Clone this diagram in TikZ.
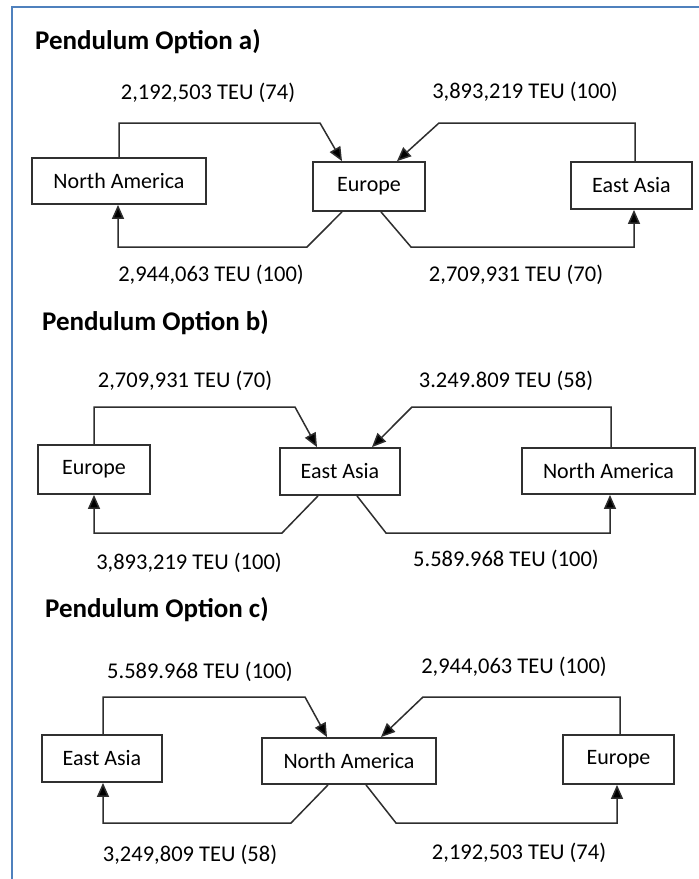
\documentclass[tikz,border=0pt]{standalone}
\usepackage{fontspec}
\setmainfont{Carlito}
\usetikzlibrary{arrows.meta}
\definecolor{frameblue}{HTML}{4F81BD}
\definecolor{boxline}{HTML}{303030}
\definecolor{connline}{HTML}{2E2E2E}
\tikzset{
  region/.style={draw=boxline, line width=1.8pt, fill=white, inner sep=0pt, font=\fontsize{22}{24}\selectfont},
  flowlabel/.style={inner sep=0pt, font=\fontsize{22.5}{24}\selectfont},
  heading/.style={anchor=west, inner sep=0pt, font=\fontsize{27}{30}\selectfont\bfseries},
  conn/.style={draw=connline, line width=1.5pt},
  flowarrow/.style={conn, -{Triangle[length=14pt, width=12pt, fill=black]}},
}
\begin{document}
\begin{tikzpicture}[x=1pt, y=-1pt]
\useasboundingbox (0,0) rectangle (699,879);
\fill[white] (0,0) rectangle (699,879);
\draw[frameblue, line width=2pt] (12,879) -- (12,7) -- (699,7);

% ---------- Option a ----------
\node[heading] (ta) at (35,42) {Pendulum Option a)};
\node[region, minimum width=174pt, minimum height=46pt] (NAa) at (119,181) {North America};
\node[region, minimum width=112pt, minimum height=49pt] (EUa) at (369,186.5) {Europe};
\node[region, minimum width=121pt, minimum height=47pt] (EAa) at (631.5,185.5) {East Asia};
\draw[flowarrow] (NAa.north) |- (320,123) -- ([xshift=-27pt]EUa.north);
\draw[flowarrow] ([xshift=3.5pt]EAa.north) |- (439,123) -- ([xshift=28pt]EUa.north);
\draw[flowarrow] ([xshift=-27pt]EUa.south) -- (307,247) -| ([xshift=-1pt]NAa.south);
\draw[flowarrow] ([xshift=12pt]EUa.south) -- (411,247) -| ([xshift=2.5pt]EAa.south);
\node[flowlabel] (la1) at (208,93) {2,192,503 TEU (74)};
\node[flowlabel] (la2) at (525,92) {3,893,219 TEU (100)};
\node[flowlabel] (la3) at (211,275) {2,944,063 TEU (100)};
\node[flowlabel] (la4) at (516,275) {2,709,931 TEU (70)};

% ---------- Option b ----------
\node[heading] (tb) at (42,323) {Pendulum Option b)};
\node[region, minimum width=112pt, minimum height=49pt] (EUb) at (94,469.5) {Europe};
\node[region, minimum width=120pt, minimum height=47pt] (EAb) at (340,471.5) {East Asia};
\node[region, minimum width=173pt, minimum height=46pt] (NAb) at (608.5,471) {North America};
\draw[flowarrow] (EUb.north) |- (295,407) -- ([xshift=-23pt]EAb.north);
\draw[flowarrow] ([xshift=2.5pt]NAb.north) |- (412,407) -- ([xshift=32pt]EAb.north);
\draw[flowarrow] ([xshift=-22pt]EAb.south) -- (282,533) -| (EUb.south);
\draw[flowarrow] ([xshift=17pt]EAb.south) -- (386,533) -| ([xshift=1.5pt]NAb.south);
\node[flowlabel] (lb1) at (185,381) {2,709,931 TEU (70)};
\node[flowlabel] (lb2) at (506,381) {3.249.809 TEU (58)};
\node[flowlabel] (lb3) at (189,563) {3,893,219 TEU (100)};
\node[flowlabel] (lb4) at (506,560) {5.589.968 TEU (100)};

% ---------- Option c ----------
\node[heading] (tc) at (45,610) {Pendulum Option c)};
\node[region, minimum width=120pt, minimum height=47pt] (EAc) at (102,758.5) {East Asia};
\node[region, minimum width=174pt, minimum height=46pt] (NAc) at (349,761) {North America};
\node[region, minimum width=111pt, minimum height=49pt] (EUc) at (618.5,759.5) {Europe};
\draw[flowarrow] ([xshift=1pt]EAc.north) |- (305,697) -- ([xshift=-22pt]NAc.north);
\draw[flowarrow] ([xshift=1.5pt]EUc.north) |- (423,697) -- ([xshift=32pt]NAc.north);
\draw[flowarrow] ([xshift=-21pt]NAc.south) -- (291,823) -| ([xshift=1pt]EAc.south);
\draw[flowarrow] ([xshift=17pt]NAc.south) -- (396,823) -| ([xshift=-1.5pt]EUc.south);
\node[flowlabel] (lc1) at (200,672) {5.589.968 TEU (100)};
\node[flowlabel] (lc2) at (514,667) {2,944,063 TEU (100)};
\node[flowlabel] (lc3) at (190,855) {3,249,809 TEU (58)};
\node[flowlabel] (lc4) at (519,853) {2,192,503 TEU (74)};
\end{tikzpicture}
\end{document}
